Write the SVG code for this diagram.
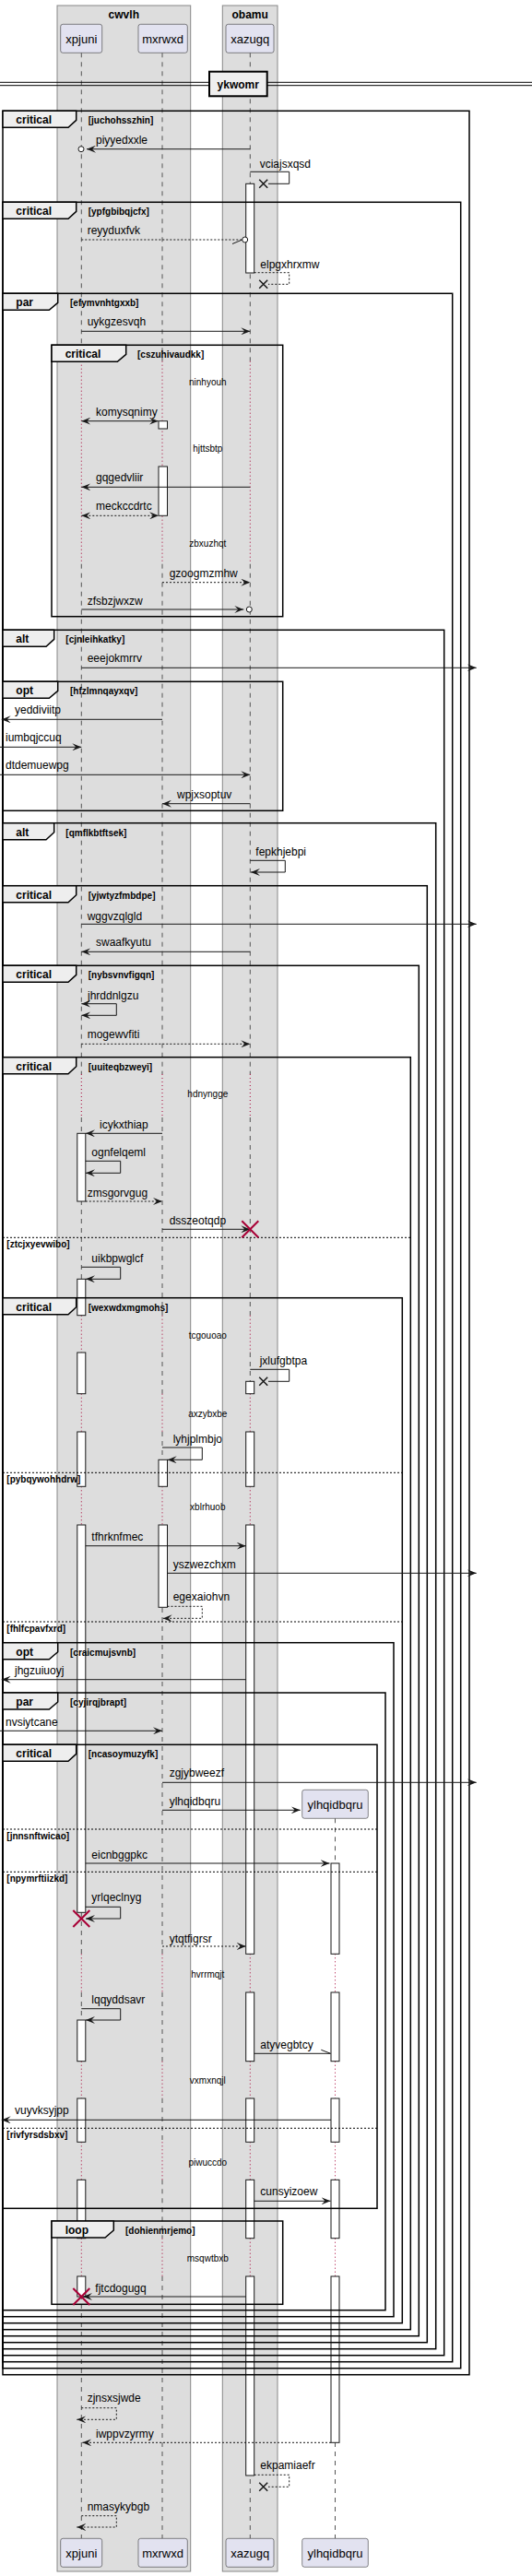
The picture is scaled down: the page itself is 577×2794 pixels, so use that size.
<svg xmlns="http://www.w3.org/2000/svg" width="577" height="2794" viewBox="0 0 577 2794">
<style>
text{font-family:"Liberation Sans",Arial,sans-serif;fill:#000}
.m{font-size:12px}
.d{font-size:10px;text-anchor:middle}
.p{font-size:13px;text-anchor:middle}
.bt{font-size:12px;font-weight:bold;text-anchor:middle}
.kw{font-size:12px;font-weight:bold}
.g{font-size:10px;font-weight:bold}
.ln{stroke:#181818;stroke-width:1;fill:none}
.ds{stroke-dasharray:2,2}
.fr{fill:none;stroke:#000;stroke-width:1.5}
.tab{fill:#EEEEEE;stroke:#000;stroke-width:1.5}
.el{stroke:#000;stroke-width:1;stroke-dasharray:2,2}
.bar{fill:#fff;stroke:#181818;stroke-width:1}
.life{stroke:#555;stroke-width:1;stroke-dasharray:5,5;fill:none}
.dl{stroke:#A80036;stroke-width:1;stroke-dasharray:1,3;fill:none}
.part{fill:#E2E2F0;stroke:#181818;stroke-width:0.5}
.box{fill:#DDDDDD;stroke:#888;stroke-width:1}
.x{stroke:#181818;stroke-width:1.5}
.rx{stroke:#A80036;stroke-width:2}
.circ{fill:#fff;stroke:#181818;stroke-width:1}
</style>
<defs>
<marker id="ah" viewBox="0 0 10 8" refX="10" refY="4" markerWidth="10" markerHeight="8" markerUnits="userSpaceOnUse" orient="auto-start-reverse">
<path d="M0,0 L10,4 L0,8 L4,4 Z" fill="#181818"/>
</marker>
</defs>
<rect width="577" height="2794" fill="#fff"/>
<g id="box-cwvlh"><rect class="box" x="62" y="6" width="144.7" height="2783"/><text class="bt" x="134.3" y="19.5">cwvlh</text></g>
<g id="box-obamu"><rect class="box" x="241.3" y="6" width="59.7" height="2783"/><text class="bt" x="271.2" y="19.5">obamu</text></g>
<g id="lifelines">
<path class="life" d="M88.3,57.3V391.7M88.3,611.7V1165M88.3,1212V1426.7M88.3,1467V1511.7M88.3,1553V1612.3M88.3,1654V2119.3M88.3,2161V2235.7M88.3,2276V2323.3M88.3,2364.3V2427.7M88.3,2469V2753.3"/>
<path class="life" d="M176,57.3V391.7M176,611.7V1165M176,1212V1426.7M176,1467V1511.7M176,1553V1612.3M176,1654V2119.3M176,2161V2235.7M176,2276V2323.3M176,2364.3V2427.7M176,2469V2753.3"/>
<path class="life" d="M271.3,57.3V391.7M271.3,611.7V1165M271.3,1212V1426.7M271.3,1467V1511.7M271.3,1553V1612.3M271.3,1654V2119.3M271.3,2161V2235.7M271.3,2276V2323.3M271.3,2364.3V2427.7M271.3,2469V2753.3"/>
<path class="life" d="M363.5,1972.3V2119.3M363.5,2161V2235.7M363.5,2276V2323.3M363.5,2364.3V2427.7M363.5,2469V2753.3"/>
<path class="dl" d="M88.3,391.7V611.7M88.3,1165V1212M88.3,1426.7V1467M88.3,1511.7V1553M88.3,1612.3V1654M88.3,2119.3V2161M88.3,2235.7V2276M88.3,2323.3V2364.3M88.3,2427.7V2469"/>
<path class="dl" d="M176,391.7V611.7M176,1165V1212M176,1426.7V1467M176,1511.7V1553M176,1612.3V1654M176,2119.3V2161M176,2235.7V2276M176,2323.3V2364.3M176,2427.7V2469"/>
<path class="dl" d="M271.3,391.7V611.7M271.3,1165V1212M271.3,1426.7V1467M271.3,1511.7V1553M271.3,1612.3V1654M271.3,2119.3V2161M271.3,2235.7V2276M271.3,2323.3V2364.3M271.3,2427.7V2469"/>
<path class="dl" d="M363.5,2119.3V2161M363.5,2235.7V2276M363.5,2323.3V2364.3M363.5,2427.7V2469"/>
</g>
<g id="participants">
<g id="p-xpjuni"><rect class="part" x="65.7" y="26.3" width="45" height="31" rx="2.5"/><text class="p" x="88.3" y="47">xpjuni</text><rect class="part" x="65.7" y="2753.3" width="45" height="31" rx="2.5"/><text class="p" x="88.3" y="2774">xpjuni</text></g>
<g id="p-mxrwxd"><rect class="part" x="150" y="26.3" width="53.3" height="31" rx="2.5"/><text class="p" x="176.6" y="47">mxrwxd</text><rect class="part" x="150" y="2753.3" width="53.3" height="31" rx="2.5"/><text class="p" x="176.6" y="2774">mxrwxd</text></g>
<g id="p-xazugq"><rect class="part" x="245" y="26.3" width="52" height="31" rx="2.5"/><text class="p" x="271.2" y="47">xazugq</text><rect class="part" x="245" y="2753.3" width="52" height="31" rx="2.5"/><text class="p" x="271.2" y="2774">xazugq</text></g>
<g id="p-ylhqidbqru"><rect class="part" x="327.7" y="1941.3" width="71.6" height="31" rx="2.5"/><text class="p" x="363.5" y="1962">ylhqidbqru</text><rect class="part" x="327.7" y="2753.3" width="71.6" height="31" rx="2.5"/><text class="p" x="363.5" y="2774">ylhqidbqru</text></g>
</g>
<g id="bars">
<rect class="bar" x="83.8" y="1229.3" width="9" height="73.7"/>
<rect class="bar" x="83.8" y="1387.3" width="9" height="39.4"/>
<rect class="bar" x="83.8" y="1467" width="9" height="44.7"/>
<rect class="bar" x="83.8" y="1553" width="9" height="59.3"/>
<rect class="bar" x="83.8" y="1654" width="9" height="420.3"/>
<rect class="bar" x="83.8" y="2191" width="9" height="44.7"/>
<rect class="bar" x="83.8" y="2276" width="9" height="47.3"/>
<rect class="bar" x="83.8" y="2364.3" width="9" height="63.4"/>
<rect class="bar" x="83.8" y="2469" width="9" height="22"/>
<rect class="bar" x="172" y="456.7" width="9.5" height="8.3"/>
<rect class="bar" x="172" y="506" width="9.5" height="53.3"/>
<rect class="bar" x="172" y="1583.3" width="9.5" height="29"/>
<rect class="bar" x="172" y="1654" width="9.5" height="89.3"/>
<rect class="bar" x="266.7" y="199.3" width="9" height="96.7"/>
<rect class="bar" x="266.7" y="1498.3" width="9" height="13.4"/>
<rect class="bar" x="266.7" y="1553" width="9" height="59.3"/>
<rect class="bar" x="266.7" y="1654" width="9" height="465.3"/>
<rect class="bar" x="266.7" y="2161" width="9" height="74.7"/>
<rect class="bar" x="266.7" y="2276" width="9" height="47.3"/>
<rect class="bar" x="266.7" y="2364.3" width="9" height="63.4"/>
<rect class="bar" x="266.7" y="2469" width="9" height="216"/>
<rect class="bar" x="359" y="2021" width="9" height="98.3"/>
<rect class="bar" x="359" y="2161" width="9" height="74.7"/>
<rect class="bar" x="359" y="2276" width="9" height="47.3"/>
<rect class="bar" x="359" y="2364.3" width="9" height="63.4"/>
<rect class="bar" x="359" y="2469" width="9" height="180.3"/>
</g>
<g id="divider">
<line x1="0" y1="89.3" x2="577" y2="89.3" stroke="#000"/>
<line x1="0" y1="92.7" x2="577" y2="92.7" stroke="#000"/>
<rect x="227" y="77.7" width="62.7" height="26.6" fill="#EEEEEE" stroke="#000" stroke-width="2"/>
<text class="bt" x="258.3" y="95.5">ykwomr</text>
</g>
<g id="frames">
<g id="f1"><rect class="fr" x="3" y="120.3" width="506" height="2455.4"/><polygon class="tab" points="3,120.3 82.7,120.3 82.7,130.3 74,138.3 3,138.3"/><text class="kw" x="17.3" y="134.3">critical</text><text class="g" x="95.7" y="134.3">[juchohsszhin]</text></g>
<g id="f2"><rect class="fr" x="3" y="219.3" width="496.7" height="2349.4"/><polygon class="tab" points="3,219.3 82.7,219.3 82.7,229.3 74,237.3 3,237.3"/><text class="kw" x="17.3" y="233.3">critical</text><text class="g" x="95.7" y="233.3">[ypfgbibqjcfx]</text></g>
<g id="f3"><rect class="fr" x="3" y="318.3" width="487.7" height="2243.4"/><polygon class="tab" points="3,318.3 62.7,318.3 62.7,328.3 53.3,336.3 3,336.3"/><text class="kw" x="17.3" y="332.3">par</text><text class="g" x="76" y="332.3">[efymvnhtgxxb]</text></g>
<g id="f3a"><rect class="fr" x="56" y="374.3" width="250.7" height="294.4"/><polygon class="tab" points="56,374.3 136.7,374.3 136.7,384.3 127.3,392.3 56,392.3"/><text class="kw" x="70.7" y="388.3">critical</text><text class="g" x="149" y="388.3">[cszuhivaudkk]</text></g>
<g id="f4"><rect class="fr" x="3" y="683.3" width="478.7" height="1871.4"/><polygon class="tab" points="3,683.3 58.7,683.3 58.7,693.3 50,701.3 3,701.3"/><text class="kw" x="17.3" y="697.3">alt</text><text class="g" x="71.3" y="697.3">[cjnleihkatky]</text></g>
<g id="f4a"><rect class="fr" x="3" y="739.3" width="303.7" height="140"/><polygon class="tab" points="3,739.3 62.7,739.3 62.7,749.3 53.3,757.3 3,757.3"/><text class="kw" x="17.3" y="753.3">opt</text><text class="g" x="76" y="753.3">[hfzlmnqayxqv]</text></g>
<g id="f5"><rect class="fr" x="3" y="892.7" width="469.7" height="1655"/><polygon class="tab" points="3,892.7 58.7,892.7 58.7,902.7 50,910.7 3,910.7"/><text class="kw" x="17.3" y="906.7">alt</text><text class="g" x="71.3" y="906.7">[qmflkbtftsek]</text></g>
<g id="f6"><rect class="fr" x="3" y="960.7" width="460.3" height="1580"/><polygon class="tab" points="3,960.7 82.7,960.7 82.7,970.7 74,978.7 3,978.7"/><text class="kw" x="17.3" y="974.7">critical</text><text class="g" x="95.7" y="974.7">[yjwtyzfmbdpe]</text></g>
<g id="f7"><rect class="fr" x="3" y="1047.3" width="451.3" height="1486.4"/><polygon class="tab" points="3,1047.3 82.7,1047.3 82.7,1057.3 74,1065.3 3,1065.3"/><text class="kw" x="17.3" y="1061.3">critical</text><text class="g" x="95.7" y="1061.3">[nybsvnvfigqn]</text></g>
<g id="f8"><rect class="fr" x="3" y="1146.7" width="442.3" height="1380"/><polygon class="tab" points="3,1146.7 82.7,1146.7 82.7,1156.7 74,1164.7 3,1164.7"/><text class="kw" x="17.3" y="1160.7">critical</text><text class="g" x="95.7" y="1160.7">[uuiteqbzweyi]</text>
<line class="el" x1="3" y1="1342.3" x2="445.3" y2="1342.3"/><text class="g" x="7.3" y="1353.3">[ztcjxyevwibo]</text></g>
<g id="f9"><rect class="fr" x="3" y="1407.7" width="433.3" height="1112"/><polygon class="tab" points="3,1407.7 82.7,1407.7 82.7,1417.7 74,1425.7 3,1425.7"/><text class="kw" x="17.3" y="1421.7">critical</text><text class="g" x="95.7" y="1421.7">[wexwdxmgmohs]</text>
<line class="el" x1="3" y1="1597.3" x2="436.3" y2="1597.3"/><text class="g" x="7.3" y="1608.3">[pybqywohhdrw]</text>
<line class="el" x1="3" y1="1759" x2="436.3" y2="1759"/><text class="g" x="7.3" y="1770">[fhlfcpavfxrd]</text></g>
<g id="f10"><rect class="fr" x="3" y="1781.7" width="424" height="731"/><polygon class="tab" points="3,1781.7 62.7,1781.7 62.7,1791.7 53.3,1799.7 3,1799.7"/><text class="kw" x="17.3" y="1795.7">opt</text><text class="g" x="76" y="1795.7">[craicmujsvnb]</text></g>
<g id="f11"><rect class="fr" x="3" y="1836" width="415" height="669.7"/><polygon class="tab" points="3,1836 62.7,1836 62.7,1846 53.3,1854 3,1854"/><text class="kw" x="17.3" y="1850">par</text><text class="g" x="76" y="1850">[cyjirqjbrapt]</text></g>
<g id="f12"><rect class="fr" x="3" y="1892.3" width="406" height="503"/><polygon class="tab" points="3,1892.3 82.7,1892.3 82.7,1902.3 74,1910.3 3,1910.3"/><text class="kw" x="17.3" y="1906.3">critical</text><text class="g" x="95.7" y="1906.3">[ncasoymuzyfk]</text>
<line class="el" x1="3" y1="1984" x2="409" y2="1984"/><text class="g" x="7.3" y="1995">[jnnsnftwicao]</text>
<line class="el" x1="3" y1="2030.3" x2="409" y2="2030.3"/><text class="g" x="7.3" y="2041.3">[npymrftiizkd]</text>
<line class="el" x1="3" y1="2308.3" x2="409" y2="2308.3"/><text class="g" x="7.3" y="2319.3">[rivfyrsdsbxv]</text></g>
<g id="f12b"><rect class="fr" x="56" y="2409" width="250.7" height="90.3"/><polygon class="tab" points="56,2409 123.3,2409 123.3,2419 114,2427 56,2427"/><text class="kw" x="70.7" y="2423">loop</text><text class="g" x="136" y="2423">[dohienmrjemo]</text></g>
</g>
<g id="delays">
<text class="d" x="225.3" y="418">ninhyouh</text>
<text class="d" x="225.3" y="489.5">hjttsbtp</text>
<text class="d" x="225.3" y="593">zbxuzhqt</text>
<text class="d" x="225.3" y="1190">hdnyngge</text>
<text class="d" x="225.3" y="1452">tcgouoao</text>
<text class="d" x="225.3" y="1537">axzybxbe</text>
<text class="d" x="225.3" y="1638">xblrhuob</text>
<text class="d" x="225.3" y="2144.5">hvrrmqjt</text>
<text class="d" x="225.3" y="2260">vxmxnqjl</text>
<text class="d" x="225.3" y="2348.5">piwuccdo</text>
<text class="d" x="225.3" y="2453">msqwtbxb</text>
</g>
<g id="connectors">
<line class="ln" x1="271.3" y1="161.7" x2="94" y2="161.7" marker-end="url(#ah)"/><circle class="circ" cx="88" cy="161.7" r="3"/><text class="m" x="104" y="155.7">piyyedxxle</text>
<polyline class="ln" points="271.3,186.3 313.7,186.3 313.7,199.3 291,199.3"/><path class="x" d="M281.2,194.8L290.2,203.8M290.2,194.8L281.2,203.8"/><text class="m" x="281.7" y="181.7">vciajsxqsd</text>
<line class="ln ds" x1="88.3" y1="260" x2="262.7" y2="260"/><line class="ln" x1="262.7" y1="260" x2="252" y2="264.5"/><circle class="circ" cx="265.7" cy="260" r="3"/><text class="m" x="94.7" y="254.3">reyyduxfvk</text>
<polyline class="ln ds" points="275.7,295.7 313.7,295.7 313.7,308.3 291,308.3"/><path class="x" d="M281.2,303.8L290.2,312.8M290.2,303.8L281.2,312.8"/><text class="m" x="282.3" y="291">elpgxhrxmw</text>
<line class="ln" x1="88.3" y1="359.3" x2="271.3" y2="359.3" marker-end="url(#ah)"/><text class="m" x="94.7" y="353.3">uykgzesvqh</text>
<line class="ln" x1="88.3" y1="456.7" x2="171.7" y2="456.7" marker-start="url(#ah)" marker-end="url(#ah)"/><text class="m" x="104" y="450.7">komysqnimy</text>
<line class="ln" x1="271.3" y1="528.3" x2="88.3" y2="528.3" marker-end="url(#ah)"/><text class="m" x="104" y="522.3">gqgedvliir</text>
<line class="ln ds" x1="88.3" y1="559.3" x2="172" y2="559.3" marker-start="url(#ah)" marker-end="url(#ah)"/><text class="m" x="104" y="553.3">meckccdrtc</text>
<line class="ln ds" x1="176" y1="631.7" x2="271.3" y2="631.7" marker-end="url(#ah)"/><text class="m" x="183.7" y="625.7">gzoogmzmhw</text>
<line class="ln" x1="88.3" y1="661" x2="264.3" y2="661" marker-end="url(#ah)"/><circle class="circ" cx="270.3" cy="661" r="3"/><text class="m" x="94.7" y="655.7">zfsbzjwxzw</text>
<line class="ln" x1="88.3" y1="724.3" x2="516.7" y2="724.3" marker-end="url(#ah)"/><text class="m" x="94.7" y="718.3">eeejokmrrv</text>
<line class="ln" x1="176" y1="780.3" x2="1.7" y2="780.3" marker-end="url(#ah)"/><text class="m" x="16" y="774">yeddiviitp</text>
<line class="ln" x1="0" y1="810.3" x2="88.3" y2="810.3" marker-end="url(#ah)"/><text class="m" x="6" y="804.3">iumbqjccuq</text>
<line class="ln" x1="0" y1="840.3" x2="271.3" y2="840.3" marker-end="url(#ah)"/><text class="m" x="6" y="834.3">dtdemuewpg</text>
<line class="ln" x1="271.3" y1="871.7" x2="176" y2="871.7" marker-end="url(#ah)"/><text class="m" x="192" y="865.7">wpjxsoptuv</text>
<polyline class="ln" points="271.3,933.3 309.3,933.3 309.3,946 272,946" marker-end="url(#ah)"/><text class="m" x="277.3" y="928.3">fepkhjebpi</text>
<line class="ln" x1="88.3" y1="1002.3" x2="516.7" y2="1002.3" marker-end="url(#ah)"/><text class="m" x="94.7" y="997.7">wggvzqlgld</text>
<line class="ln" x1="271.3" y1="1032.3" x2="88.3" y2="1032.3" marker-end="url(#ah)"/><text class="m" x="104" y="1026">swaafkyutu</text>
<polyline class="ln" points="88.3,1088.7 126.3,1088.7 126.3,1101.3 88.3,1101.3" marker-start="url(#ah)" marker-end="url(#ah)"/><text class="m" x="95" y="1083.7">jhrddnlgzu</text>
<line class="ln ds" x1="88.3" y1="1132.3" x2="271.3" y2="1132.3" marker-end="url(#ah)"/><text class="m" x="94.7" y="1126.3">mogewvfiti</text>
<line class="ln" x1="176" y1="1229.3" x2="93" y2="1229.3" marker-end="url(#ah)"/><text class="m" x="108" y="1224.3">icykxthiap</text>
<polyline class="ln" points="92.8,1259.3 130.7,1259.3 130.7,1272.3 93,1272.3" marker-end="url(#ah)"/><text class="m" x="99.3" y="1254">ognfelqeml</text>
<line class="ln ds" x1="92.8" y1="1303" x2="176" y2="1303" marker-end="url(#ah)"/><text class="m" x="94.7" y="1297.7">zmsgorvgug</text>
<line class="ln" x1="176" y1="1333.3" x2="271.3" y2="1333.3" marker-end="url(#ah)"/><path class="rx" d="M262.3,1324.3L280.3,1342.3M280.3,1324.3L262.3,1342.3"/><text class="m" x="183.7" y="1328.3">dsszeotqdp</text>
<polyline class="ln" points="88.3,1374.3 130.7,1374.3 130.7,1387.3 93,1387.3" marker-end="url(#ah)"/><text class="m" x="99.3" y="1369.3">uikbpwglcf</text>
<polyline class="ln" points="271.3,1485.3 313.7,1485.3 313.7,1498.3 291,1498.3"/><path class="x" d="M281.2,1493.8L290.2,1502.8M290.2,1493.8L281.2,1502.8"/><text class="m" x="281.7" y="1480">jxlufgbtpa</text>
<polyline class="ln" points="176,1570 219.3,1570 219.3,1583.3 181.7,1583.3" marker-end="url(#ah)"/><text class="m" x="187.7" y="1565">lyhjplmbjo</text>
<line class="ln" x1="92.8" y1="1676.7" x2="266.7" y2="1676.7" marker-end="url(#ah)"/><text class="m" x="99.3" y="1671">tfhrknfmec</text>
<line class="ln" x1="181.5" y1="1706.3" x2="516.7" y2="1706.3" marker-end="url(#ah)"/><text class="m" x="187.7" y="1701">yszwezchxm</text>
<polyline class="ln ds" points="181.5,1742.3 219.3,1742.3 219.3,1755.3 176.7,1755.3" marker-end="url(#ah)"/><text class="m" x="187.7" y="1736">egexaiohvn</text>
<line class="ln" x1="266.7" y1="1821.7" x2="1.7" y2="1821.7" marker-end="url(#ah)"/><text class="m" x="16" y="1815.7">jhgzuiuoyj</text>
<line class="ln" x1="0" y1="1877.3" x2="176" y2="1877.3" marker-end="url(#ah)"/><text class="m" x="6" y="1872.3">nvsiytcane</text>
<line class="ln" x1="176" y1="1933.3" x2="516.7" y2="1933.3" marker-end="url(#ah)"/><text class="m" x="183.7" y="1927.3">zgjybweezf</text>
<line class="ln" x1="176" y1="1963.3" x2="325.7" y2="1963.3" marker-end="url(#ah)"/><text class="m" x="183.7" y="1958.3">ylhqidbqru</text>
<line class="ln" x1="92.8" y1="2021" x2="357.5" y2="2021" marker-end="url(#ah)"/><text class="m" x="99.3" y="2016">eicnbggpkc</text>
<polyline class="ln" points="92.8,2068.3 130.7,2068.3 130.7,2081 93,2081" marker-end="url(#ah)"/><path class="rx" d="M79.3,2072L97.3,2090M97.3,2072L79.3,2090"/><text class="m" x="99.3" y="2062.3">yrlqeclnyg</text>
<line class="ln ds" x1="176" y1="2111" x2="266.7" y2="2111" marker-end="url(#ah)"/><text class="m" x="183.7" y="2106.7">ytqtfigrsr</text>
<polyline class="ln" points="88.3,2178.7 130.7,2178.7 130.7,2191 93,2191" marker-end="url(#ah)"/><text class="m" x="99.3" y="2173.3">lqqyddsavr</text>
<line class="ln" x1="275.7" y1="2227.3" x2="358.5" y2="2227.3"/><line class="ln" x1="358.5" y1="2227.3" x2="348.3" y2="2223.3"/><text class="m" x="282.3" y="2221.7">atyvegbtcy</text>
<line class="ln" x1="359" y1="2299.3" x2="1.7" y2="2299.3" marker-end="url(#ah)"/><text class="m" x="16" y="2293.3">vuyvksyjpp</text>
<line class="ln" x1="275.7" y1="2387.3" x2="358.5" y2="2387.3" marker-end="url(#ah)"/><text class="m" x="282.3" y="2381">cunsyizoew</text>
<line class="ln" x1="266.7" y1="2491" x2="90" y2="2491" marker-end="url(#ah)"/><path class="rx" d="M79.3,2482L97.3,2500M97.3,2482L79.3,2500"/><text class="m" x="103.3" y="2485.7">fjtcdogugq</text>
<polyline class="ln ds" points="88.3,2611.7 126.3,2611.7 126.3,2624.3 83.3,2624.3" marker-end="url(#ah)"/><text class="m" x="94.7" y="2605">zjnsxsjwde</text>
<line class="ln ds" x1="359" y1="2649.3" x2="89.3" y2="2649.3" marker-end="url(#ah)"/><text class="m" x="104" y="2644">iwppvzyrmy</text>
<polyline class="ln ds" points="275.7,2684.3 313.7,2684.3 313.7,2697.3 291,2697.3"/><path class="x" d="M281.2,2692.8L290.2,2701.8M290.2,2692.8L281.2,2701.8"/><text class="m" x="282.3" y="2678.3">ekpamiaefr</text>
<polyline class="ln ds" points="88.3,2728.7 126.3,2728.7 126.3,2741 83.3,2741" marker-end="url(#ah)"/><text class="m" x="94.7" y="2722.7">nmasykybgb</text>
</g>
</svg>
